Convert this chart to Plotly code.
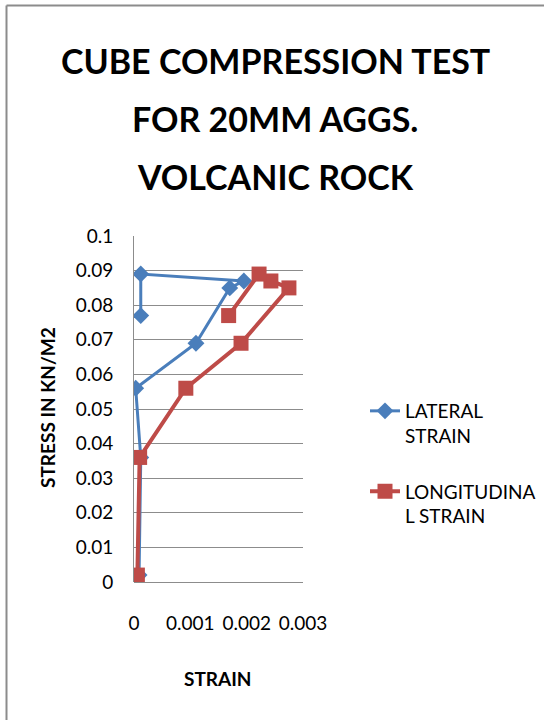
import plotly.graph_objects as go

# Cube compression test, 20 mm aggregate, volcanic rock
stress = [0.001, 0.002, 0.036, 0.056, 0.069, 0.085, 0.087, 0.089, 0.077]
lateral_strain = [0.00002, 0.00009, 0.00012, 0.00003, 0.0011, 0.0017, 0.00195, 0.00012, 0.00012]
longitudinal_strain = [0.00002, 0.00006, 0.0001, 0.00092, 0.0019, 0.00275, 0.00243, 0.00222, 0.00168]

x_ticks = [0, 0.001, 0.002, 0.003]
x_tick_labels = ["0", "0.001", "0.002", "0.003"]
y_ticks = [0, 0.01, 0.02, 0.03, 0.04, 0.05, 0.06, 0.07, 0.08, 0.09, 0.1]
y_tick_labels = ["0", "0.01", "0.02", "0.03", "0.04", "0.05", "0.06", "0.07", "0.08", "0.09", "0.1"]

title_lines = ["CUBE COMPRESSION TEST", "FOR 20MM AGGS.", "VOLCANIC ROCK"]

FONT = "Lato, Liberation Sans, sans-serif"
BLUE = "#4a7ebb"
RED = "#be4b48"
GRID = "#8c8c8c"

W, H = 544, 720
L, R, T, B = 134, 241, 236, 138
pw, ph = W - L - R, H - T - B


def px_x(px):
    return (px - L) / pw


def px_y(py):
    return (H - B - py) / ph


fig = go.Figure()
fig.add_trace(go.Scatter(
    x=lateral_strain, y=stress, mode="lines+markers",
    name="LATERAL<br>STRAIN", legendgroup="a",
    line=dict(color=BLUE, width=3),
    marker=dict(symbol="diamond", size=13, color=BLUE),
))
fig.add_trace(go.Scatter(
    x=longitudinal_strain, y=stress, mode="lines+markers",
    name="LONGITUDINA<br>L STRAIN", legendgroup="b",
    line=dict(color=RED, width=4),
    marker=dict(symbol="square", size=15, color=RED),
))

annotations = []
for i, line in enumerate(title_lines):
    annotations.append(dict(
        text="<b>%s</b>" % line, x=px_x(275), y=px_y(61 + 57.5 * i),
        xref="paper", yref="paper", xanchor="center", yanchor="middle",
        showarrow=False, font=dict(family=FONT, size=34, color="#000000"),
    ))
annotations.append(dict(
    text="<b>STRESS IN KN/M2</b>", x=px_x(47), y=px_y(408),
    xref="paper", yref="paper", xanchor="center", yanchor="middle",
    textangle=-90, showarrow=False, font=dict(family=FONT, size=19, color="#000000"),
))
annotations.append(dict(
    text="<b>STRAIN</b>", x=px_x(218), y=px_y(678),
    xref="paper", yref="paper", xanchor="center", yanchor="middle",
    showarrow=False, font=dict(family=FONT, size=19, color="#000000"),
))

# chart-area frame (left and top edges)
shapes = [
    dict(type="line", xref="paper", yref="paper", x0=px_x(6.5), x1=px_x(6.5),
         y0=px_y(5.5), y1=px_y(730), line=dict(color=GRID, width=2)),
    dict(type="line", xref="paper", yref="paper", x0=px_x(6.5), x1=px_x(560),
         y0=px_y(5.5), y1=px_y(5.5), line=dict(color=GRID, width=2)),
]

fig.update_layout(
    width=W, height=H,
    margin=dict(l=L, r=R, t=T, b=B, autoexpand=False),
    paper_bgcolor="white", plot_bgcolor="white",
    font=dict(family=FONT, size=19, color="#000000"),
    showlegend=True,
    legend=dict(
        x=px_x(365), y=px_y(392), xanchor="left", yanchor="top",
        valign="top", tracegroupgap=28, itemwidth=30,
        font=dict(family=FONT, size=19, color="#000000"),
        bgcolor="rgba(0,0,0,0)",
    ),
    annotations=annotations,
    shapes=shapes,
)
fig.update_xaxes(
    range=[0, 0.003], tickvals=x_ticks, ticktext=x_tick_labels,
    showgrid=False, zeroline=False, showline=False, ticks="",
    ticklabelstandoff=28, tickfont=dict(family=FONT, size=19),
)
fig.update_yaxes(
    range=[0, 0.1], tickvals=y_ticks, ticktext=y_tick_labels,
    showgrid=True, gridcolor=GRID, gridwidth=1,
    zeroline=True, zerolinecolor=GRID, zerolinewidth=1,
    showline=True, linecolor=GRID, linewidth=1, ticks="",
    ticklabelstandoff=16, tickfont=dict(family=FONT, size=19),
)

fig.write_html("out.html")
